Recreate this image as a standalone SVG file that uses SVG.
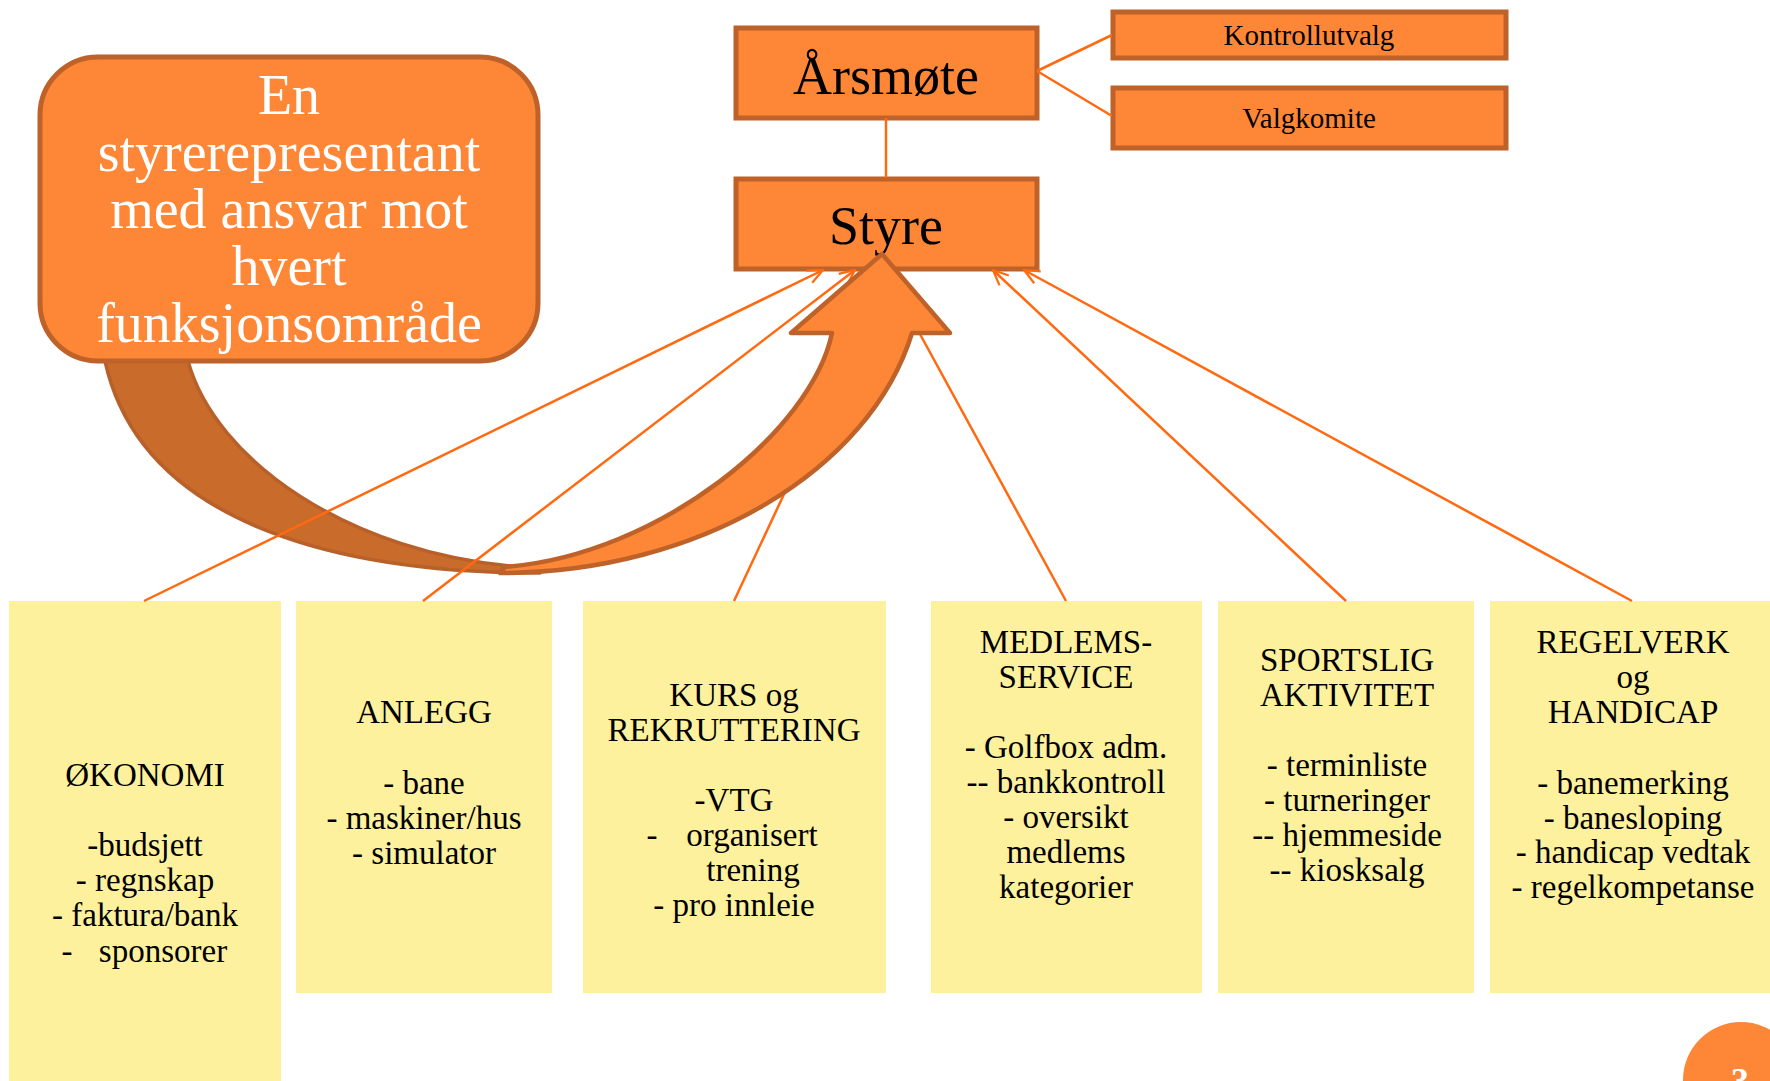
<svg xmlns="http://www.w3.org/2000/svg" width="1770" height="1081" viewBox="0 0 1770 1081">
<style>
.ob{fill:#FD8737;stroke:#BE6229;stroke-width:5}
.yb{fill:#FEF19D;stroke:none}
.t{font-family:"Liberation Serif","DejaVu Serif",serif;fill:#000;text-anchor:middle}
.yt{font-size:33px}
.w{font-family:"Liberation Serif","DejaVu Serif",serif;fill:#fff;text-anchor:middle;font-size:56px}
.c{stroke:#FF6A10;stroke-width:2.5;fill:none}
</style>
<defs>
<marker id="ah" viewBox="0 0 20 20" refX="19" refY="10" markerWidth="17" markerHeight="17" markerUnits="userSpaceOnUse" orient="auto">
<path d="M1,2 L19,10 L1,18" fill="none" stroke="#FF6A10" stroke-width="2.6"/>
</marker>
</defs>
<rect width="1770" height="1081" fill="#fff"/>

<g id="okonomi">
<rect class="yb" x="9" y="601" width="272" height="480"/>
<text class="t yt" x="145" y="786">ØKONOMI</text>
<text class="t yt" x="145" y="856">-budsjett</text>
<text class="t yt" x="145" y="891">- regnskap</text>
<text class="t yt" x="145" y="926">- faktura/bank</text>
<text class="t yt" y="962"><tspan x="67">-</tspan><tspan x="163">sponsorer</tspan></text>
</g>
<g id="anlegg">
<rect class="yb" x="296" y="601" width="256" height="392"/>
<text class="t yt" x="424" y="723">ANLEGG</text>
<text class="t yt" x="424" y="794">- bane</text>
<text class="t yt" x="424" y="829">- maskiner/hus</text>
<text class="t yt" x="424" y="864">- simulator</text>
</g>
<g id="kurs">
<rect class="yb" x="583" y="601" width="303" height="392"/>
<text class="t yt" x="734" y="706">KURS og</text>
<text class="t yt" x="734" y="741">REKRUTTERING</text>
<text class="t yt" x="734" y="811">-VTG</text>
<text class="t yt" y="846"><tspan x="652">-</tspan><tspan x="752">organisert</tspan></text>
<text class="t yt" x="753" y="881">trening</text>
<text class="t yt" x="734" y="916">- pro innleie</text>
</g>
<g id="medlemsservice">
<rect class="yb" x="931" y="601" width="271" height="392"/>
<text class="t yt" x="1066" y="653">MEDLEMS-</text>
<text class="t yt" x="1066" y="688">SERVICE</text>
<text class="t yt" x="1066" y="758">- Golfbox adm.</text>
<text class="t yt" x="1066" y="793">-- bankkontroll</text>
<text class="t yt" x="1066" y="828">- oversikt</text>
<text class="t yt" x="1066" y="863">medlems</text>
<text class="t yt" x="1066" y="898">kategorier</text>
</g>
<g id="sportslig">
<rect class="yb" x="1218" y="601" width="256" height="392"/>
<text class="t yt" x="1347" y="671">SPORTSLIG</text>
<text class="t yt" x="1347" y="706">AKTIVITET</text>
<text class="t yt" x="1347" y="776">- terminliste</text>
<text class="t yt" x="1347" y="811">- turneringer</text>
<text class="t yt" x="1347" y="846">-- hjemmeside</text>
<text class="t yt" x="1347" y="881">-- kiosksalg</text>
</g>
<g id="regelverk">
<rect class="yb" x="1490" y="601" width="280" height="392"/>
<text class="t yt" x="1633" y="653">REGELVERK</text>
<text class="t yt" x="1633" y="688">og</text>
<text class="t yt" x="1633" y="723">HANDICAP</text>
<text class="t yt" x="1633" y="794">- banemerking</text>
<text class="t yt" x="1633" y="829">- banesloping</text>
<text class="t yt" x="1633" y="863">- handicap vedtak</text>
<text class="t yt" x="1633" y="898">- regelkompetanse</text>
</g>

<g id="arsmote">
<rect class="ob" x="736" y="28" width="301" height="90"/>
<text class="t" x="886" y="94" font-size="54">Årsmøte</text>
</g>
<g id="kontrollutvalg">
<rect class="ob" x="1113" y="12" width="393" height="46"/>
<text class="t" x="1309" y="45" font-size="29">Kontrollutvalg</text>
</g>
<g id="valgkomite">
<rect class="ob" x="1113" y="88" width="393" height="60"/>
<text class="t" x="1309" y="128" font-size="29">Valgkomite</text>
</g>
<g id="styre">
<rect class="ob" x="736" y="179" width="301" height="90"/>
<text class="t" x="886" y="244" font-size="54">Styre</text>
</g>

<g id="curved-arrow-back">
<path d="M105,352 L105,361 C140,520 330,573 540,573 L523,567 C350,555 215,460 188,361 L188,352 Z" fill="#C96B2B" stroke="#B8602A" stroke-width="3.5" stroke-linejoin="round"/>
</g>

<g id="connectors">
<line class="c" x1="1037" y1="71" x2="1112" y2="35"/>
<line class="c" x1="1037" y1="71" x2="1112" y2="116"/>
<line class="c" x1="886" y1="118" x2="886" y2="178"/>
<line class="c" x1="144" y1="601" x2="823" y2="270" marker-end="url(#ah)"/>
<line class="c" x1="423" y1="601" x2="855" y2="270" marker-end="url(#ah)"/>
<line class="c" x1="734" y1="601" x2="888" y2="272"/>
<line class="c" x1="1066" y1="601" x2="886" y2="272"/>
<line class="c" x1="1346" y1="601" x2="993" y2="270" marker-end="url(#ah)"/>
<line class="c" x1="1632" y1="601" x2="1024" y2="270" marker-end="url(#ah)"/>
</g>

<g id="callout">
<rect x="40" y="57" width="498" height="304" rx="58" ry="58" fill="#FD8737" stroke="#BE6229" stroke-width="5"/>
<text class="w" x="289" y="114">En</text>
<text class="w" x="289" y="171">styrerepresentant</text>
<text class="w" x="289" y="228">med ansvar mot</text>
<text class="w" x="289" y="285">hvert</text>
<text class="w" x="289" y="342">funksjonsområde</text>
</g>

<g id="curved-arrow-front">
<path d="M500,573 C700,573 870,470 912,333 L950,333 L882,254 L791,333 L832,333 C812,430 660,555 505,567 Z" fill="#FD8737" stroke="#BE6229" stroke-width="4.5" stroke-linejoin="round"/>
</g>

<g id="page-number">
<circle cx="1741" cy="1080" r="58" fill="#FD8737"/>
<text x="1740" y="1093" font-family="Liberation Serif, DejaVu Serif, serif" font-size="36" font-weight="bold" fill="#fff" text-anchor="middle">3</text>
</g>
</svg>
